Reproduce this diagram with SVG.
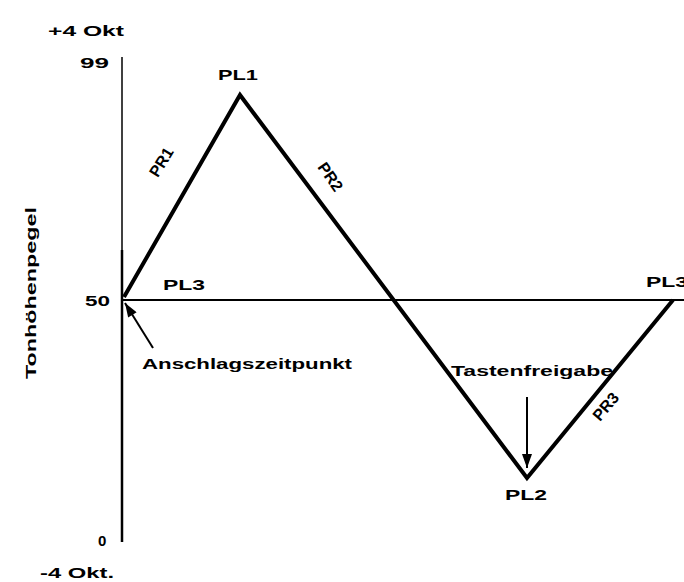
<svg xmlns="http://www.w3.org/2000/svg" width="684" height="582" viewBox="0 0 684 582">
<style>
text{font-family:"Liberation Sans",Arial,sans-serif;font-weight:bold;fill:#000;font-size:15px}
.pr{font-size:16px}
.thin{stroke:#000;stroke-width:2;fill:none}
.thick{stroke:#000;stroke-width:4;fill:none;stroke-linejoin:miter}
.arrow{stroke:#000;stroke-width:2;fill:none;marker-end:url(#ah)}
</style>
<defs>
<marker id="ah" viewBox="0 0 14 10" refX="14" refY="5" markerWidth="15" markerHeight="10" orient="auto" markerUnits="userSpaceOnUse">
<path d="M0,0 L14,5 L0,10 z" fill="#000"/>
</marker>
</defs>
<g id="axis">
<line x1="122" y1="57" x2="122" y2="250" stroke="#000" stroke-width="1.5"/>
<line x1="122" y1="250" x2="122" y2="542" stroke="#000" stroke-width="2.5"/>
<text x="48" y="36" textLength="76" lengthAdjust="spacingAndGlyphs">+4 Okt</text>
<text x="80" y="68" textLength="29" lengthAdjust="spacingAndGlyphs">99</text>
<text x="85" y="306" textLength="25" lengthAdjust="spacingAndGlyphs">50</text>
<text x="98" y="546">0</text>
<text x="40" y="578" textLength="74" lengthAdjust="spacingAndGlyphs">-4 Okt.</text>
<text transform="translate(36,293) rotate(-90)" text-anchor="middle" textLength="172" lengthAdjust="spacingAndGlyphs">Tonhöhenpegel</text>
</g>
<g id="connectors">
<line class="thin" x1="122" y1="300" x2="684" y2="300"/>
<polyline class="thick" points="124,297 240,95 527,478 673,300"/>
<line class="arrow" x1="153" y1="348" x2="125" y2="303"/>
<line class="arrow" x1="527" y1="397" x2="527" y2="468"/>
</g>
<g id="PL1"><text x="218" y="80" textLength="40" lengthAdjust="spacingAndGlyphs">PL1</text></g>
<g id="PL2"><text x="505" y="500" textLength="42" lengthAdjust="spacingAndGlyphs">PL2</text></g>
<g id="PL3-left"><text x="163" y="290" textLength="42" lengthAdjust="spacingAndGlyphs">PL3</text></g>
<g id="PL3-right"><text x="646" y="287" textLength="42" lengthAdjust="spacingAndGlyphs">PL3</text></g>
<g id="PR1"><text class="pr" transform="translate(166,165) rotate(-58)" text-anchor="middle">PR1</text></g>
<g id="PR2"><text class="pr" transform="translate(326,180) rotate(55)" text-anchor="middle">PR2</text></g>
<g id="PR3"><text class="pr" transform="translate(610,410) rotate(-50)" text-anchor="middle">PR3</text></g>
<g id="Anschlag"><text x="142" y="369" textLength="210" lengthAdjust="spacingAndGlyphs">Anschlagszeitpunkt</text></g>
<g id="Tasten"><text x="451" y="376" textLength="162" lengthAdjust="spacingAndGlyphs">Tastenfreigabe</text></g>
</svg>
